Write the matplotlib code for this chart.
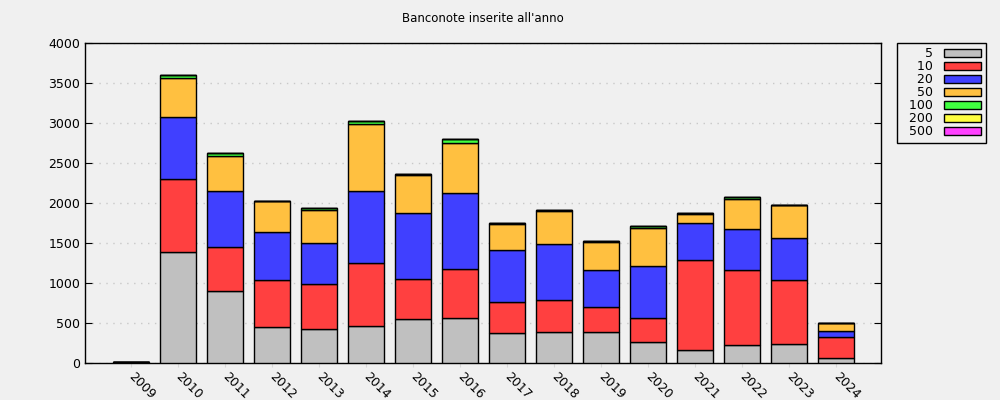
import matplotlib
matplotlib.use("Agg")
import matplotlib.pyplot as plt
import numpy as np

years = [str(y) for y in range(2009, 2025)]
labels = ["5", "10", "20", "50", "100", "200", "500"]
n5 = [12, 1385, 896, 446, 421, 458, 546, 558, 371, 383, 383, 258, 158, 221, 233, 58]
n10 = [0, 910, 550, 587, 562, 788, 500, 613, 387, 400, 313, 300, 1125, 937, 800, 263]
n20 = [0, 775, 700, 600, 513, 900, 825, 950, 650, 700, 462, 650, 463, 513, 525, 75]
n50 = [0, 487, 437, 388, 421, 837, 475, 625, 325, 417, 350, 475, 112, 383, 413, 100]
n100 = [0, 38, 38, 5, 20, 38, 16, 50, 13, 15, 13, 25, 13, 17, 5, 0]
n200 = [0] * 16
n500 = [0] * 16
colors = ["#c0c0c0", "#ff4040", "#4040ff", "#ffc040", "#40ff40", "#ffff40", "#ff40ff"]

series = [n5, n10, n20, n50, n100, n200, n500]

fig = plt.figure(figsize=(10, 4), dpi=100, facecolor="#f0f0f0")
ax = fig.add_axes([0.085, 0.0925, 0.796, 0.8])
ax.set_facecolor("#f0f0f0")

x = np.arange(len(years))
bottom = np.zeros(len(years))
for vals, lab, col in zip(series, labels, colors):
    # pad with figure spaces so the legend labels line up on the right
    padded = "\u2007" * (4 - len(lab)) + lab
    ax.bar(x, vals, 0.77, bottom=bottom, color=col, edgecolor="black",
           linewidth=1, label=padded, zorder=3)
    bottom += np.array(vals)

ax.set_xlim(-0.98, 15.96)
ax.set_ylim(0, 4000)
ax.set_yticks(range(0, 4001, 500))
ax.grid(axis="y", color="#c8c8c8", linestyle=(0, (1, 4)), linewidth=1, zorder=0)

ax.set_xticks(x)
ax.set_xticklabels(years, rotation=-45, ha="left", va="center",
                   rotation_mode="anchor", fontsize=9)
ax.tick_params(axis="x", direction="out", length=3, color="#d8d8d8", pad=5)
ax.tick_params(axis="y", direction="in", length=5, right=True, labelsize=9)
for s in ax.spines.values():
    s.set_linewidth(1)

ax.set_title("Banconote inserite all'anno", fontsize=8.5, pad=15)

leg = ax.legend(loc="upper left", bbox_to_anchor=(1.02, 1.0), markerfirst=False,
                fontsize=9, frameon=True, fancybox=False, edgecolor="black",
                facecolor="#f0f0f0", framealpha=1, handlelength=3.0,
                handleheight=0.55, labelspacing=0.0, borderpad=0.35,
                handletextpad=0.85, borderaxespad=0)
leg.get_frame().set_linewidth(1)

fig.savefig("out.png", dpi=100, facecolor=fig.get_facecolor())
